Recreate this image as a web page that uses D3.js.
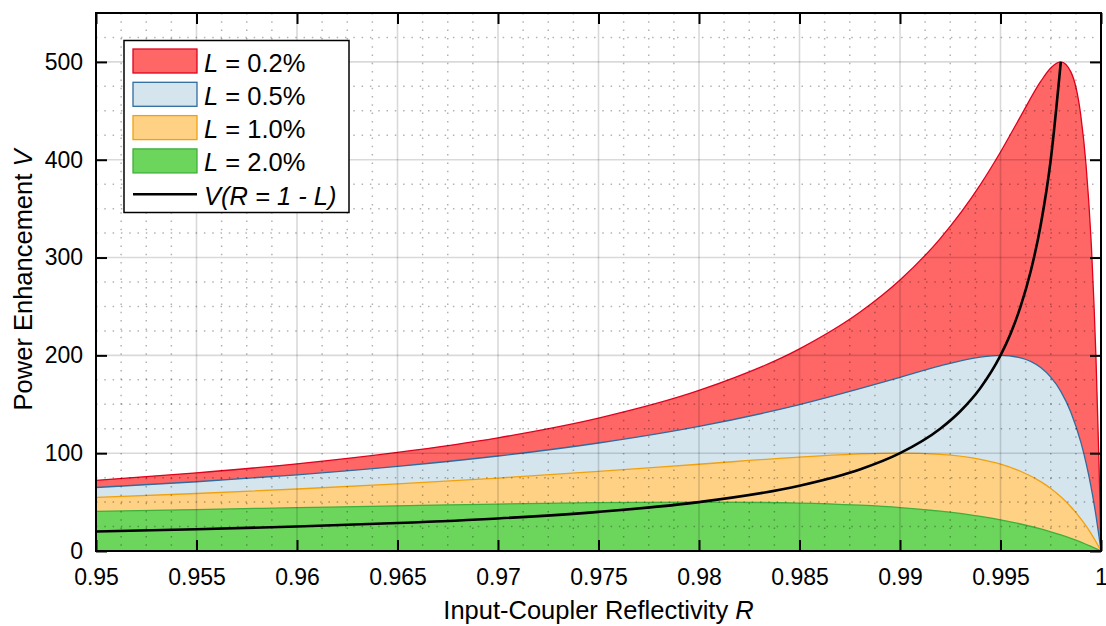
<!DOCTYPE html>
<html>
<head>
<meta charset="utf-8">
<script src="https://cdn.jsdelivr.net/npm/d3@7"></script>
<style>
  body { margin: 0; background: #fff; }
  svg { font-family: "Liberation Sans", Arial, sans-serif; }
</style>
</head>
<body>
<div id="chart"></div>
<script>
// reflectivity grid shared by the four loss curves
const reflect = [0.95, 0.955, 0.96, 0.965, 0.97, 0.975, 0.98, 0.985, 0.988, 0.99, 0.992, 0.994,
  0.995, 0.996, 0.997, 0.9975, 0.998, 0.9985, 0.999, 0.99925, 0.9995, 0.99975, 0.9999, 1]

const vL02 = [72.3, 79.9, 89.1, 100.8, 115.7, 135.8, 164.1, 206.6, 244.0, 277.0, 319.4, 374.6,
  407.9, 444.3, 480.0, 493.8, 500.0, 489.8, 444.4, 396.1, 319.9, 197.3, 90.6, 0]
const vL05 = [64.9, 70.8, 77.9, 86.5, 97.1, 110.4, 127.4, 149.6, 165.9, 177.6, 189.3, 198.3,
  200.0, 197.5, 187.5, 177.7, 163.2, 141.9, 111.0, 90.6, 66.0, 36.2, 15.3, 0]
const vL10 = [54.8, 58.8, 63.4, 68.7, 74.6, 81.4, 88.7, 96.0, 99.2, 100.0, 98.8, 93.7,
  88.8, 81.5, 70.9, 63.9, 55.4, 45.2, 32.9, 25.9, 18.1, 9.5, 3.9, 0]
const vL20 = [40.6, 42.4, 44.3, 46.2, 48.0, 49.4, 50.0, 49.0, 46.8, 44.4, 40.7, 35.4,
  31.9, 27.6, 22.5, 19.6, 16.4, 12.9, 9.0, 6.9, 4.7, 2.4, 1.0, 0]

// V at R = 1 - L
const lineR = [0.95, 0.955, 0.96, 0.965, 0.97, 0.975, 0.98, 0.985, 0.988, 0.99, 0.992, 0.993,
  0.994, 0.995, 0.9955, 0.996, 0.9965, 0.997, 0.9975, 0.998]
const lineV = [20, 22.2, 25, 28.6, 33.3, 40, 50, 66.7, 83.3, 100, 125, 142.9,
  166.7, 200, 222.2, 250, 285.7, 333.3, 400, 500]

const seriesNames = ["0.2%", "0.5%", "1.0%", "2.0%"]
const seriesVals = [vL02, vL05, vL10, vL20]
const fills = ["#ff6666", "#d5e5ee", "#fed184", "#6cd65c"]
const strokes = ["#e0001b", "#2e6c9e", "#f2a00e", "#3fae3a"]

const xTicks = [0.95, 0.955, 0.96, 0.965, 0.97, 0.975, 0.98, 0.985, 0.99, 0.995, 1]
const yTicks = [0, 100, 200, 300, 400, 500]

const W = 1106, H = 626
const mL = 96, mR = 1101, mT = 13, mB = 551

const svg = d3.select("#chart")
  .append("svg")
  .attr("width", W)
  .attr("height", H)

const x = d3.scaleLinear().domain([0.95, 1]).range([mL, mR])
const y = d3.scaleLinear().domain([0, 550]).range([mB, mT])

svg.append("defs").append("clipPath").attr("id", "clip")
  .append("rect").attr("x", mL).attr("y", mT)
  .attr("width", mR - mL).attr("height", mB - mT)

const plot = svg.append("g").attr("clip-path", "url(#clip)")

// filled areas, lowest loss behind
seriesVals.forEach((vals, k) => {
  const pts = reflect.map((r, i) => [r, vals[i]])
  plot.append("path")
    .datum(pts)
    .attr("fill", fills[k])
    .attr("d", d3.area().x(d => x(d[0])).y0(y(0)).y1(d => y(d[1])).curve(d3.curveMonotoneX))
  plot.append("path")
    .datum(pts)
    .attr("fill", "none")
    .attr("stroke", strokes[k])
    .attr("stroke-width", 1.3)
    .attr("d", d3.line().x(d => x(d[0])).y(d => y(d[1])).curve(d3.curveMonotoneX))
})

// grid on top of the fills
const minorX = d3.range(0, 41).map(i => 0.95 + i * 0.00125).filter((v, i) => i % 4 != 0)
const minorY = d3.range(0, 23).map(i => i * 25).filter(v => v % 100 != 0)

plot.selectAll(".mx").data(minorX).enter().append("line")
  .attr("x1", d => x(d)).attr("x2", d => x(d)).attr("y1", mT).attr("y2", mB)
  .attr("stroke", "rgba(0,0,0,0.3)").attr("stroke-width", 1.5).attr("stroke-dasharray", "1.5,6.8")
plot.selectAll(".my").data(minorY).enter().append("line")
  .attr("y1", d => y(d)).attr("y2", d => y(d)).attr("x1", mL).attr("x2", mR)
  .attr("stroke", "rgba(0,0,0,0.3)").attr("stroke-width", 1.5).attr("stroke-dasharray", "1.5,6.8")
plot.selectAll(".gx").data(xTicks).enter().append("line")
  .attr("x1", d => x(d)).attr("x2", d => x(d)).attr("y1", mT).attr("y2", mB)
  .attr("stroke", "rgba(0,0,0,0.15)").attr("stroke-width", 1.6)
plot.selectAll(".gy").data(yTicks).enter().append("line")
  .attr("y1", d => y(d)).attr("y2", d => y(d)).attr("x1", mL).attr("x2", mR)
  .attr("stroke", "rgba(0,0,0,0.15)").attr("stroke-width", 1.6)

// black V(R = 1 - L) curve
plot.append("path")
  .datum(lineR.map((r, i) => [r, lineV[i]]))
  .attr("fill", "none")
  .attr("stroke", "#000")
  .attr("stroke-width", 2.6)
  .attr("d", d3.line().x(d => x(d[0])).y(d => y(d[1])).curve(d3.curveMonotoneX))

// axes with inward ticks on all four sides
const fmtX = d => String(+d.toFixed(3))
svg.append("g").attr("transform", `translate(0,${mB})`)
  .call(d3.axisBottom(x).tickValues(xTicks).tickSizeInner(-11).tickSizeOuter(0).tickPadding(18).tickFormat(fmtX))
svg.append("g").attr("transform", `translate(0,${mT})`)
  .call(d3.axisTop(x).tickValues(xTicks).tickSizeInner(-11).tickSizeOuter(0).tickFormat(""))
svg.append("g").attr("transform", `translate(${mL},0)`)
  .call(d3.axisLeft(y).tickValues(yTicks).tickSizeInner(-11).tickSizeOuter(0).tickPadding(13))
svg.append("g").attr("transform", `translate(${mR},0)`)
  .call(d3.axisRight(y).tickValues(yTicks).tickSizeInner(-11).tickSizeOuter(0).tickFormat(""))

svg.selectAll(".tick line").attr("stroke", "#000").attr("stroke-width", 2)
svg.selectAll(".domain").remove()
svg.selectAll(".tick text").attr("font-size", 23).attr("fill", "#000")
  .attr("font-family", "Liberation Sans, Arial, sans-serif")

svg.append("rect")
  .attr("x", mL).attr("y", mT).attr("width", mR - mL).attr("height", mB - mT)
  .attr("fill", "none").attr("stroke", "#000").attr("stroke-width", 2)

// axis titles
const xt = svg.append("text").attr("x", (mL + mR) / 2).attr("y", 619)
  .attr("text-anchor", "middle").attr("font-size", 25.5)
xt.append("tspan").text("Input-Coupler Reflectivity ")
xt.append("tspan").attr("font-style", "italic").text("R")

const yt = svg.append("text")
  .attr("transform", `translate(32,280) rotate(-90)`)
  .attr("text-anchor", "middle").attr("font-size", 25.5)
yt.append("tspan").text("Power Enhancement ")
yt.append("tspan").attr("font-style", "italic").text("V")

// legend
const lg = svg.append("g")
lg.append("rect").attr("x", 124).attr("y", 40.5).attr("width", 225).attr("height", 172)
  .attr("fill", "#fff").attr("stroke", "#000").attr("stroke-width", 1.5)

seriesNames.forEach((nm, k) => {
  const cy = 61 + k * 33.3
  lg.append("rect").attr("x", 133).attr("y", cy - 12).attr("width", 64).attr("height", 24)
    .attr("fill", fills[k]).attr("stroke", strokes[k]).attr("stroke-width", 1.3)
  const t = lg.append("text").attr("x", 204).attr("y", cy + 10.5).attr("font-size", 25.5)
  t.append("tspan").attr("font-style", "italic").text("L")
  t.append("tspan").text(" = " + nm)
})
const ly = 61 + 4 * 33.3
lg.append("line").attr("x1", 133).attr("x2", 197).attr("y1", ly).attr("y2", ly)
  .attr("stroke", "#000").attr("stroke-width", 2.6)
lg.append("text").attr("x", 204).attr("y", ly + 10.5).attr("font-size", 25.5)
  .attr("font-style", "italic").text("V(R = 1 - L)")
</script>
</body>
</html>
